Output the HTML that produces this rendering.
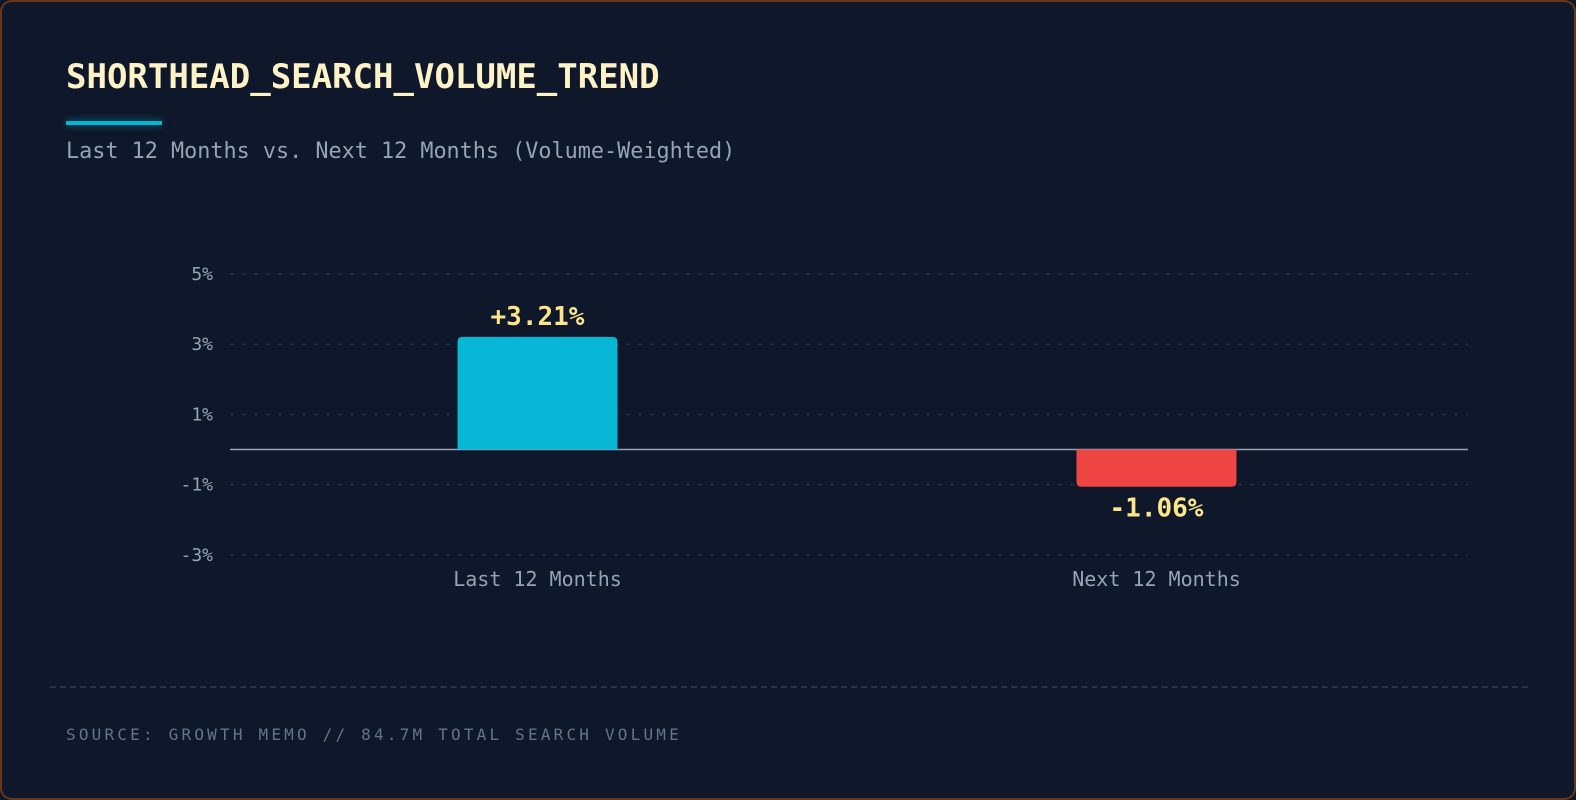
<!DOCTYPE html>
<html><head><meta charset="utf-8"><style>
html,body{margin:0;padding:0;background:#0f172a;}
body{width:1576px;height:800px;overflow:hidden;font-family:"DejaVu Sans Mono","Liberation Mono",monospace;}
#card{position:absolute;left:0;top:0;width:1572px;height:796px;border:2px solid #6b3416;border-radius:12px;background:#0f172a;}
#title{position:absolute;left:66px;top:57px;font-size:34px;font-weight:bold;color:#fef3c7;margin:0;white-space:nowrap;}
#accent{position:absolute;left:66px;top:121px;width:96px;height:4px;background:#06b6d4;box-shadow:0 0 8px rgba(6,182,212,.6);}
#sub{position:absolute;left:66px;top:139px;font-size:21.8px;color:#94a3b8;white-space:nowrap;}
#sep{position:absolute;left:50px;top:686px;width:1478px;border-top:2px dashed #273449;}
#foot{position:absolute;left:66px;top:725px;font-size:16px;letter-spacing:3.2px;color:#64748b;white-space:nowrap;}
svg{position:absolute;left:0;top:0;}
</style></head><body>
<div id="card"></div>
<h1 id="title">SHORTHEAD_SEARCH_VOLUME_TREND</h1>
<div id="accent"></div>
<div id="sub">Last 12 Months vs. Next 12 Months (Volume-Weighted)</div>
<svg id="chart" width="1576" height="800"></svg>
<div id="sep"></div>
<div id="foot">SOURCE: GROWTH MEMO // 84.7M TOTAL SEARCH VOLUME</div>
<script>
const categories = ["Last 12 Months", "Next 12 Months"];
const values = [3.21, -1.06];
const valueLabels = ["+3.21%", "-1.06%"];
const ticks = [5, 3, 1, -1, -3];
const tickLabels = ["5%", "3%", "1%", "-1%", "-3%"];

const NS = "http://www.w3.org/2000/svg";
const svg = document.getElementById("chart");
const x0 = 228, x1 = 1466, zeroY = 449.5, pxPer = 35.1, barW = 160;
const y = v => zeroY - v * pxPer;
const band = (x1 - x0) / categories.length;
const xc = i => x0 + band * (i + 0.5);
function mk(tag, attrs){const e=document.createElementNS(NS,tag);for(const k in attrs)e.setAttribute(k,attrs[k]);svg.appendChild(e);return e;}

ticks.forEach((t,i)=>{
  const g = mk("line",{x1:x0+2,x2:x1+2,y1:y(t),y2:y(t),stroke:"#243247","stroke-width":1.5,"stroke-dasharray":"4 8"});
  
  
  const l = mk("text",{x:213,y:y(t)+6,"text-anchor":"end",fill:"#94a3b8","font-size":18,"font-family":"DejaVu Sans Mono, monospace"});
  l.textContent = tickLabels[i];
  
  
});
const z = mk("line",{x1:x0+2,x2:x1+2,y1:zeroY,y2:zeroY,stroke:"#94a3b8","stroke-width":1.5});



values.forEach((v,i)=>{
  const top = Math.min(y(v), zeroY), h = Math.abs(y(v)-zeroY), r = 5, bx = xc(i)-barW/2;
  let d;
  if (v >= 0) d = `M${bx},${zeroY} V${top+r} Q${bx},${top} ${bx+r},${top} H${bx+barW-r} Q${bx+barW},${top} ${bx+barW},${top+r} V${zeroY} Z`;
  else { const b = zeroY + h; d = `M${bx},${zeroY} V${b-r} Q${bx},${b} ${bx+r},${b} H${bx+barW-r} Q${bx+barW},${b} ${bx+barW},${b-r} V${zeroY} Z`; }
  const bar = mk("path",{d:d,fill: v>=0 ? "#06b6d4" : "#ef4444"});
  
  
  const vl = mk("text",{x:xc(i),y: v>=0 ? y(v)-12 : y(v)+30,"text-anchor":"middle",fill:"#fde68a","font-size":26,"font-weight":"bold","font-family":"DejaVu Sans Mono, monospace"});
  vl.textContent = valueLabels[i];
  
  
  const cl = mk("text",{x:xc(i),y:586,"text-anchor":"middle",fill:"#94a3b8","font-size":20,"font-family":"DejaVu Sans Mono, monospace"});
  cl.textContent = categories[i];
  
  
});
</script>
</body></html>
